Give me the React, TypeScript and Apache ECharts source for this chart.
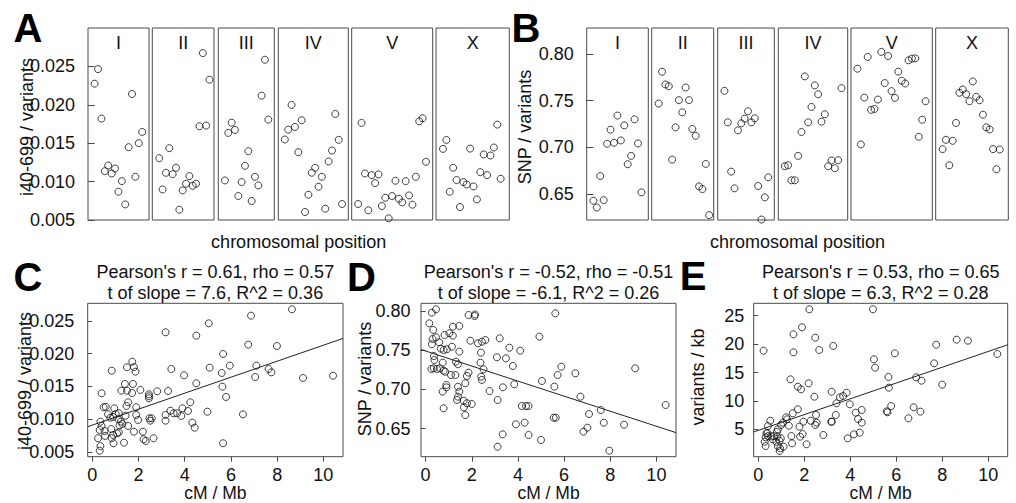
import React, { useEffect, useRef } from 'react';
import * as echarts from 'echarts';

// ---------------- data ----------------
const chromosomes = ['I', 'II', 'III', 'IV', 'V', 'X'];

// A: i40-699 / variants per window, by chromosome (windows in order along the chromosome)
const i40ByChrom: number[][] = [
  [0.02275, 0.02465, 0.0182, 0.01136, 0.0121, 0.01106, 0.0117, 0.00868, 0.01006, 0.00703, 0.01448, 0.02141, 0.01063, 0.015, 0.01647],
  [0.01305, 0.00898, 0.01115, 0.01435, 0.01097, 0.0118, 0.00634, 0.00885, 0.00972, 0.01072, 0.00946, 0.00972, 0.01721, 0.02673, 0.0173, 0.02327],
  [0.01015, 0.01634, 0.01768, 0.01673, 0.00812, 0.00994, 0.01206, 0.01396, 0.00747, 0.01063, 0.0095, 0.02119, 0.02587, 0.01807],
  [0.01548, 0.01677, 0.01998, 0.01712, 0.01383, 0.01799, 0.00604, 0.00829, 0.01115, 0.0118, 0.00933, 0.01063, 0.00647, 0.01262, 0.01405, 0.01881, 0.01544, 0.00708],
  [0.00708, 0.01764, 0.01106, 0.00626, 0.01084, 0.0098, 0.01094, 0.00682, 0.0079, 0.00522, 0.00812, 0.01011, 0.00777, 0.00729, 0.01006, 0.0082, 0.00699, 0.01063, 0.01786, 0.01825, 0.01258],
  [0.01426, 0.01543, 0.00868, 0.0118, 0.0102, 0.00669, 0.00994, 0.00963, 0.0143, 0.00937, 0.00768, 0.01123, 0.01353, 0.01084, 0.0134, 0.01444, 0.01742, 0.01037],
];

// B: SNP / variants per window, by chromosome
const snpByChrom: number[][] = [
  [0.6428, 0.6356, 0.6693, 0.6435, 0.7038, 0.7189, 0.7049, 0.734, 0.7074, 0.7235, 0.6819, 0.6909, 0.73, 0.7042, 0.6518],
  [0.7469, 0.781, 0.7673, 0.7655, 0.6869, 0.7214, 0.7505, 0.7375, 0.7641, 0.7505, 0.7196, 0.7124, 0.6582, 0.6553, 0.6823, 0.6274],
  [0.7605, 0.7268, 0.674, 0.6561, 0.7182, 0.7257, 0.7307, 0.7386, 0.7268, 0.7311, 0.6586, 0.6227, 0.6464, 0.6679],
  [0.6798, 0.6808, 0.6647, 0.6647, 0.6909, 0.7164, 0.776, 0.7268, 0.7433, 0.7663, 0.7569, 0.7275, 0.7354, 0.6798, 0.6859, 0.6776, 0.6862, 0.7634],
  [0.7842, 0.7031, 0.7533, 0.7968, 0.7401, 0.7411, 0.7512, 0.8022, 0.7688, 0.7978, 0.7602, 0.753, 0.781, 0.7713, 0.7684, 0.7932, 0.795, 0.7953, 0.7113, 0.7296, 0.7494],
  [0.6981, 0.7081, 0.6808, 0.707, 0.7261, 0.7584, 0.762, 0.7569, 0.7494, 0.7706, 0.7541, 0.7505, 0.735, 0.7214, 0.7192, 0.6981, 0.6765, 0.6977],
];

// C: [cM/Mb, i40-699 / variants]
const cPoints: [number, number][] = [
  [3.17, 0.02327], [4.5, 0.02276], [5.04, 0.02464], [1.73, 0.01879], [1.5, 0.01793], [1.8, 0.01795], [1.87, 0.01726],
  [0.84, 0.01741], [3.42, 0.01767], [5.08, 0.01787], [3.97, 0.0167], [4.5, 0.01549], [0.4, 0.01396], [1.41, 0.01538],
  [1.76, 0.01538], [1.26, 0.01436], [1.5, 0.01436], [1.72, 0.01401], [2.08, 0.01447], [2.81, 0.01427], [3.28, 0.01431],
  [2.45, 0.01381], [2.45, 0.0135], [2.45, 0.0132], [1.55, 0.01259], [1.48, 0.01202], [1.9, 0.01183], [0.49, 0.01183],
  [0.58, 0.0119], [0.95, 0.01167], [1.9, 0.01065], [1.44, 0.01054], [1.98, 0.00989], [0.68, 0.01076], [0.78, 0.01024],
  [0.9, 0.01036], [1.01, 0.01081], [1.15, 0.01091], [1.13, 0.00999], [1.24, 0.00963], [1.3, 0.00928], [0.35, 0.00963],
  [0.4, 0.00897], [0.32, 0.00836], [0.53, 0.0082], [0.82, 0.00851], [1.55, 0.00897], [2.47, 0.01014], [2.57, 0.01014],
  [2.51, 0.00978], [3.17, 0.01065], [3.17, 0.00978], [3.38, 0.0113], [3.52, 0.01091], [3.67, 0.01091], [3.9, 0.01167],
  [3.85, 0.0105], [4.14, 0.01126], [4.24, 0.01259], [4.33, 0.00948], [4.43, 0.00871], [4.98, 0.01115], [1.18, 0.00907],
  [0.25, 0.0071], [0.55, 0.00745], [0.9, 0.0076], [1.07, 0.00785], [1.15, 0.008], [0.35, 0.0059], [0.32, 0.0052],
  [0.84, 0.0071], [0.92, 0.00633], [1.37, 0.00642], [1.8, 0.0081], [2.19, 0.0081], [2.22, 0.00694], [2.31, 0.00668],
  [2.65, 0.0071], [5.66, 0.01996], [5.95, 0.01818], [5.6, 0.01706], [5.63, 0.01497], [5.79, 0.0134], [5.66, 0.00633],
  [6.52, 0.01075], [6.75, 0.02139], [6.87, 0.02581], [7.1, 0.01818], [7.05, 0.01645], [7.63, 0.01767], [7.75, 0.01716],
  [7.99, 0.02118], [8.64, 0.02678], [9.12, 0.0163], [10.42, 0.01665],
];

// D: [cM/Mb, SNP / variants]
const dPoints: [number, number][] = [
  [0.27, 0.7979], [0.45, 0.8021], [0.16, 0.7843], [0.33, 0.7758], [0.3, 0.7643], [0.45, 0.7665], [0.27, 0.7576],
  [0.59, 0.7601], [0.82, 0.7694], [1.03, 0.7716], [1.18, 0.78], [1.18, 0.7685], [1.46, 0.7809], [0.78, 0.7503],
  [0.92, 0.7512], [1.14, 0.7545], [0.66, 0.752], [1.46, 0.7482], [0.36, 0.7426], [0.38, 0.7375], [0.35, 0.727],
  [0.25, 0.7261], [0.49, 0.7261], [0.62, 0.727], [0.74, 0.7341], [0.78, 0.7239], [0.85, 0.7226], [1.1, 0.7184],
  [1.31, 0.7354], [1.4, 0.7321], [1.29, 0.7184], [0.9, 0.7057], [0.9, 0.7027], [0.78, 0.676], [0.74, 0.6972],
  [1.4, 0.7035], [1.46, 0.6972], [1.4, 0.6908], [1.36, 0.6866], [1.72, 0.7079], [1.86, 0.7214], [1.79, 0.7172],
  [1.65, 0.6857], [1.79, 0.6824], [1.66, 0.6772], [1.72, 0.6674], [2.0, 0.6815], [1.94, 0.7621], [1.86, 0.7949],
  [2.12, 0.7936], [2.14, 0.7955], [2.27, 0.7588], [2.44, 0.7609], [2.59, 0.763], [2.4, 0.7469], [2.38, 0.7341],
  [2.51, 0.7257], [2.41, 0.7163], [2.44, 0.7121], [2.77, 0.698], [3.21, 0.7652], [3.09, 0.741], [3.48, 0.7397],
  [3.63, 0.7532], [4.1, 0.7494], [3.78, 0.7299], [3.35, 0.7027], [3.12, 0.6866], [3.84, 0.7066], [4.93, 0.7673],
  [5.04, 0.7108], [4.17, 0.6789], [4.35, 0.6789], [4.46, 0.6789], [3.91, 0.6556], [4.29, 0.6577], [3.34, 0.6428],
  [4.46, 0.642], [3.12, 0.627], [5.0, 0.6356], [5.58, 0.7036], [5.55, 0.664], [5.64, 0.664], [5.62, 0.797],
  [5.72, 0.7184], [5.88, 0.729], [6.49, 0.7206], [6.71, 0.6908], [6.84, 0.6462], [7.01, 0.6513], [7.08, 0.6687],
  [7.59, 0.6738], [7.72, 0.6576], [7.96, 0.622], [8.6, 0.6551], [9.08, 0.7269], [10.4, 0.6802],
];

// E: [cM/Mb, variants / kb]
const ePoints: [number, number][] = [
  [2.22, 26.13], [4.99, 26.13], [1.9, 22.96], [1.53, 21.73], [2.48, 21.13], [0.23, 18.84], [1.53, 18.55], [2.65, 18.96],
  [3.26, 19.67], [5.03, 17.32], [5.08, 15.85], [1.4, 13.8], [1.72, 12.5], [1.86, 12.04], [2.19, 13.1], [2.44, 10.74],
  [3.19, 11.62], [3.55, 10.63], [3.69, 10.86], [3.84, 11.44], [3.98, 9.4], [3.4, 9.58], [1.72, 8.52], [1.5, 7.82],
  [1.21, 7.11], [1.25, 6.76], [1.07, 6.16], [0.99, 5.76], [1.33, 5.64], [0.52, 6.51], [0.42, 5.58], [0.85, 5.0],
  [0.35, 4.3], [0.32, 3.59], [0.42, 3.8], [0.55, 3.75], [0.68, 3.8], [0.82, 3.7], [0.28, 2.82], [0.32, 2.06],
  [0.78, 2.82], [0.85, 2.06], [0.95, 1.65], [1.1, 1.94], [0.93, 1.18], [1.47, 2.53], [1.44, 3.82], [1.82, 3.7],
  [1.93, 4.17], [1.79, 5.46], [2.1, 2.36], [1.96, 6.34], [2.28, 6.51], [2.51, 7.52], [2.48, 5.76], [2.54, 6.16],
  [2.83, 4.0], [3.17, 6.34], [3.2, 6.34], [3.37, 7.52], [4.24, 7.93], [4.34, 6.82], [4.5, 8.4], [4.5, 6.17],
  [4.41, 4.41], [4.16, 4.12], [3.89, 3.42], [0.4, 4.35], [0.63, 3.24], [0.81, 4.53], [0.98, 3.42], [0.92, 3.0],
  [5.66, 14.21], [5.68, 12.33], [5.59, 8.17], [5.62, 8.0], [5.78, 9.1], [5.94, 18.37], [6.53, 6.94], [6.76, 8.87],
  [6.87, 14.15], [7.05, 8.11], [7.1, 13.56], [7.65, 16.61], [7.74, 19.9], [8.0, 12.86], [8.63, 20.78], [9.12, 20.6],
  [10.4, 18.26],
];

// fitted regressions: [intercept, slope]
const fitC = [0.0091, 0.00122];
const fitD = [0.749, -0.00959];
const fitE = [4.81, 1.389];

const statsC = ["Pearson's r = 0.61, rho = 0.57", 't of slope = 7.6, R^2 = 0.36'];
const statsD = ["Pearson's r = -0.52, rho = -0.51", 't of slope = -6.1, R^2 = 0.26'];
const statsE = ["Pearson's r = 0.53, rho = 0.65", 't of slope = 6.3, R^2 = 0.28'];

const ticksI40 = [0.005, 0.01, 0.015, 0.02, 0.025];
const ticksSNP = [0.65, 0.7, 0.75, 0.8];
const ticksVar = [5, 10, 15, 20, 25];
const ticksRate = [0, 2, 4, 6, 8, 10];

// ---------------- layout ----------------
const FONT = "'Liberation Sans', Arial, Helvetica, sans-serif";
const INK = '#111';
const BORDER = '#4a4a4a';
const FS = 18;
const TOP_Y = 28;
const TOP_H = 192;
const A_BOX = [[88, 149], [152.3, 214], [218.3, 274.3], [278.3, 348.3], [351.7, 432.7], [436, 509.3]];
const B_BOX = [[586.7, 648.3], [651.7, 713.7], [717.7, 774.3], [778.3, 847.7], [851, 932.3], [935.7, 1008.3]];
const PAD = [[1.95, 2.0], [2.08, 1.35], [2.0, 1.8], [1.94, 1.85], [1.9, 1.97], [2.05, 2.54]];
const BOT_Y = 303.3;
const BOT_H = 153.4;
const BOT_BOX = [[87.7, 343], [421, 676], [753.7, 1007.7]];
const RATE_RANGE = [-0.2, 10.85];

function buildOption() {
  const grid: any[] = [];
  const xAxis: any[] = [];
  const yAxis: any[] = [];
  const series: any[] = [];
  const graphic: any[] = [];

  const circle = {
    symbol: 'circle',
    symbolSize: 7,
    itemStyle: { color: 'rgba(0,0,0,0)', borderColor: '#111', borderWidth: 1 },
    silent: true,
  };
  const labelStyle = { fontSize: FS, color: INK, fontFamily: FONT };

  const text = (t: string, x: number, y: number, extra: any = {}) => ({
    type: 'text',
    x,
    y,
    silent: true,
    ...extra,
    style: { text: t, fill: INK, font: `${FS}px ${FONT}`, textAlign: 'center', textVerticalAlign: 'middle', ...(extra.style || {}) },
  });

  const topPanel = (boxes: number[][], values: number[][], yMin: number, yMax: number, ticks: number[], dec: number, margin: number) => {
    boxes.forEach((b, k) => {
      const g = grid.length;
      const n = values[k].length;
      grid.push({ left: b[0], top: TOP_Y, width: b[1] - b[0], height: TOP_H, show: true, borderColor: BORDER, borderWidth: 1, backgroundColor: '#fff', outerBoundsMode: 'none' });
      xAxis.push({ gridIndex: g, type: 'value', min: -PAD[k][0], max: n - 1 + PAD[k][1], show: false });
      yAxis.push({
        gridIndex: g, type: 'value', min: yMin, max: yMax, show: k === 0,
        axisLine: { show: false },
        axisTick: { show: true, length: 7, customValues: ticks, lineStyle: { color: BORDER } },
        axisLabel: { ...labelStyle, customValues: ticks, margin, formatter: (v: number) => v.toFixed(dec) },
        splitLine: { show: false },
      });
      series.push({ type: 'scatter', xAxisIndex: g, yAxisIndex: g, data: values[k].map((v, i) => [i, v]), ...circle });
      graphic.push(text(chromosomes[k], (b[0] + b[1]) / 2, 43));
    });
  };

  topPanel(A_BOX, i40ByChrom, 0.005, 0.03, ticksI40, 3, 13);
  topPanel(B_BOX, snpByChrom, 0.6222, 0.8278, ticksSNP, 2, 13);

  const bottomPanel = (k: number, pts: [number, number][], fit: number[], yMin: number, yMax: number, ticks: number[], dec: number, margin: number) => {
    const b = BOT_BOX[k];
    const g = grid.length;
    grid.push({ left: b[0], top: BOT_Y, width: b[1] - b[0], height: BOT_H, show: true, borderColor: BORDER, borderWidth: 1, backgroundColor: '#fff', outerBoundsMode: 'none' });
    xAxis.push({
      gridIndex: g, type: 'value', min: RATE_RANGE[0], max: RATE_RANGE[1],
      axisLine: { show: false },
      axisTick: { show: true, length: 5, customValues: ticksRate, lineStyle: { color: BORDER } },
      axisLabel: { ...labelStyle, customValues: ticksRate, margin: 9, formatter: (v: number) => String(v) },
      splitLine: { show: false },
    });
    yAxis.push({
      gridIndex: g, type: 'value', min: yMin, max: yMax,
      axisLine: { show: false },
      axisTick: { show: true, length: 5, customValues: ticks, lineStyle: { color: BORDER } },
      axisLabel: { ...labelStyle, customValues: ticks, margin, formatter: (v: number) => v.toFixed(dec) },
      splitLine: { show: false },
    });
    series.push({ type: 'scatter', xAxisIndex: g, yAxisIndex: g, data: pts, ...circle });
    series.push({
      type: 'line', xAxisIndex: g, yAxisIndex: g, silent: true, showSymbol: false, symbol: 'none',
      lineStyle: { color: '#222', width: 1 },
      data: RATE_RANGE.map((x) => [x, fit[0] + fit[1] * x]),
    });
  };

  bottomPanel(0, cPoints, fitC, 0.00428, 0.0277, ticksI40, 3, 13.5);
  bottomPanel(1, dPoints, fitD, 0.6143, 0.8098, ticksSNP, 2, 10.5);
  bottomPanel(2, ePoints, fitE, 0.18, 27.18, ticksVar, 0, 9.5);

  // axis titles
  const cxA = (A_BOX[0][0] + A_BOX[5][1]) / 2;
  const cxB = (B_BOX[0][0] + B_BOX[5][1]) / 2;
  graphic.push(text('chromosomal position', cxA, 242));
  graphic.push(text('chromosomal position', cxB, 242));
  graphic.push(text('i40-699 / variants', 26.5, 127, { rotation: Math.PI / 2 }));
  graphic.push(text('SNP / variants', 525, 127, { rotation: Math.PI / 2 }));
  graphic.push(text('i40-699 / variants', 25, 381, { rotation: Math.PI / 2 }));
  graphic.push(text('SNP / variants', 365, 379, { rotation: Math.PI / 2 }));
  graphic.push(text('variants / kb', 697.5, 377, { rotation: Math.PI / 2 }));

  const stats = [statsC, statsD, statsE];
  BOT_BOX.forEach((b, k) => {
    const cx = (b[0] + b[1]) / 2;
    graphic.push(text(stats[k][0], cx, 272));
    graphic.push(text(stats[k][1], cx, 292.5));
    graphic.push(text('cM / Mb', cx, 493, { style: { font: `17.5px ${FONT}` } }));
  });

  // panel letters
  const letter = (t: string, x: number, y: number) =>
    text(t, x, y, { style: { font: `bold 40px ${FONT}`, fill: '#000' } });
  graphic.push(letter('A', 28, 28));
  graphic.push(letter('B', 526, 28));
  graphic.push(letter('C', 28, 276.5));
  graphic.push(letter('D', 361.5, 277));
  graphic.push(letter('E', 693, 276));

  return {
    animation: false,
    backgroundColor: '#fff',
    grid,
    xAxis,
    yAxis,
    series,
    graphic: { elements: graphic },
  };
}

export default function App() {
  const ref = useRef<HTMLDivElement>(null);
  useEffect(() => {
    document.body.style.margin = '0';
    if (!ref.current) return;
    const chart = echarts.init(ref.current, undefined, { renderer: 'svg' });
    chart.setOption(buildOption() as any);
    return () => chart.dispose();
  }, []);
  return <div ref={ref} style={{ width: 1016, height: 503 }} />;
}
